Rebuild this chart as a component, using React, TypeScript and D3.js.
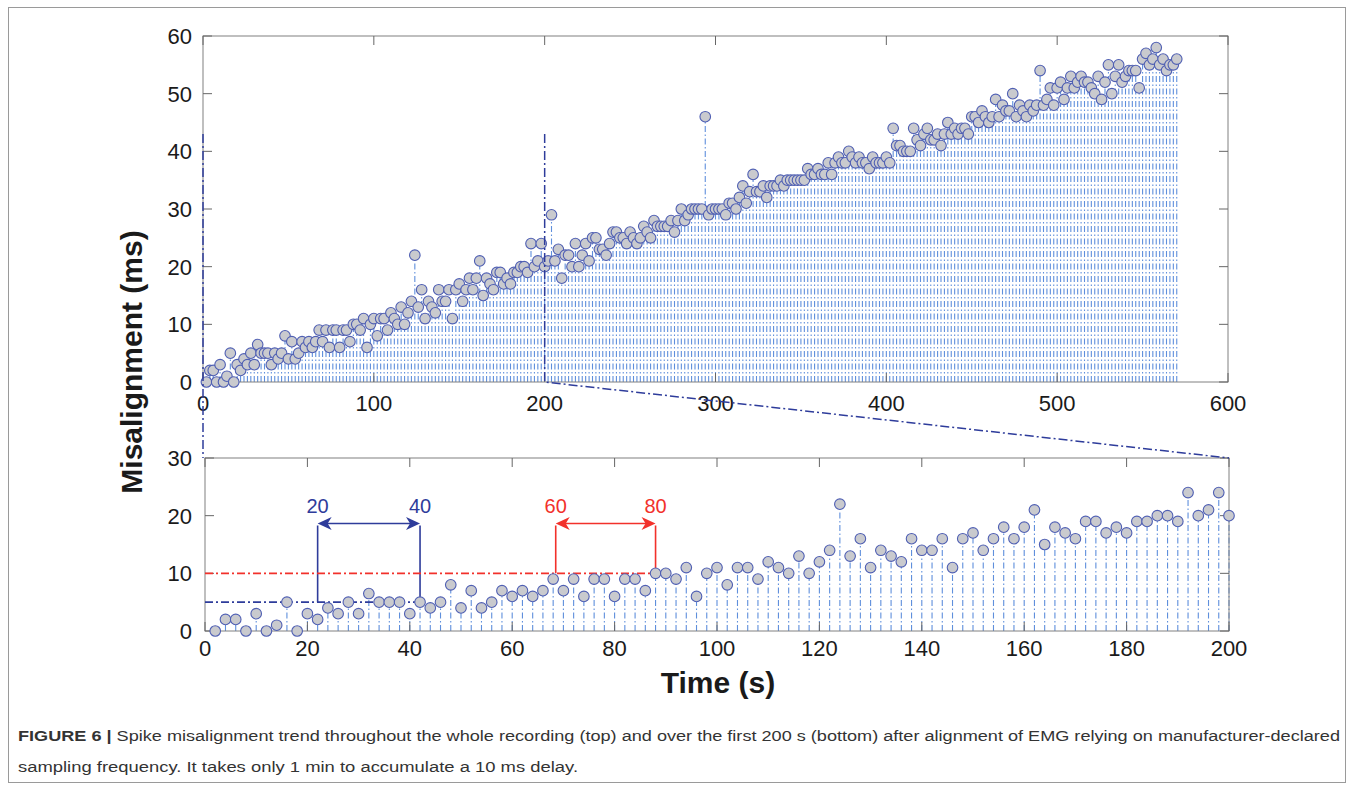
import React, { useRef, useEffect } from 'react';
import * as d3 from 'd3';

// one detected spike every 2 s
const SAMPLE_STEP = 2;

// misalignment (ms) of spikes at t = 2, 4, ... 200 s
const firstValues = [
  0, 2, 2, 0, 3, 0, 1, 5, 0, 3, 2, 4, 3, 5, 3, 6.5, 5, 5, 5, 3,
  5, 4, 5, 8, 4, 7, 4, 5, 7, 6, 7, 6, 7, 9, 7, 9, 6, 9, 9, 6,
  9, 9, 7, 10, 10, 9, 11, 6, 10, 11, 8, 11, 11, 9, 12, 11, 10, 13, 10, 12,
  14, 22, 13, 16, 11, 14, 13, 12, 16, 14, 14, 16, 11, 16, 17, 14, 16, 18, 16, 18,
  21, 15, 18, 17, 16, 19, 19, 17, 18, 17, 19, 19, 20, 20, 19, 24, 20, 21, 24, 20,
];

// misalignment (ms) of spikes at t = 202, 204, ... 570 s
const laterValues = [
  21, 29, 21, 23, 18, 22, 22, 20, 24, 20, 22, 24, 21, 25, 25, 23, 23, 22, 24, 26,
  26, 25, 25, 24, 26, 25, 24, 25, 27, 26, 25, 28, 27, 27, 27, 27, 28, 26, 28, 30,
  28, 29, 30, 30, 30, 30, 46, 29, 30, 30, 30, 30, 29, 31, 31, 30, 32, 34, 31, 33,
  36, 33, 33, 34, 32, 34, 34, 34, 35, 34, 35, 35, 35, 35, 35, 35, 37, 36, 36, 37,
  36, 36, 38, 36, 38, 39, 38, 38, 40, 39, 38, 39, 38, 38, 37, 39, 38, 38, 38, 39,
  38, 44, 41, 41, 40, 40, 40, 44, 42, 41, 43, 44, 42, 42, 43, 41, 43, 45, 43, 44,
  43, 44, 44, 43, 46, 46, 45, 47, 46, 45, 46, 49, 46, 48, 47, 47, 50, 46, 48, 47,
  46, 48, 47, 48, 54, 48, 49, 51, 48, 51, 52, 49, 51, 53, 51, 52, 53, 52, 52, 51,
  50, 53, 49, 52, 55, 50, 53, 55, 52, 53, 54, 54, 54, 51, 56, 57, 55, 56, 58, 55,
  56, 54, 55, 55, 56,
];

const topXTicks = [0, 100, 200, 300, 400, 500, 600];
const topYTicks = [0, 10, 20, 30, 40, 50, 60];
const bottomXTicks = [0, 20, 40, 60, 80, 100, 120, 140, 160, 180, 200];
const bottomYTicks = [0, 10, 20, 30];

// zoomed window of the top panel
const zoomRange = [0, 200];
const zoomMarkerTop = 43;

// annotated 20 s windows in the bottom panel
const windowBounds = [[22, 42], [68.5, 88]];
const windowLabels = [['20', '40'], ['60', '80']];
const windowLevels = [5, 10];
const windowTop = 18.3;

const captionLine1 = 'Spike misalignment trend throughout the whole recording (top) and over the first 200 s (bottom) after alignment of EMG relying on manufacturer-declared';
const captionLine2 = 'sampling frequency. It takes only 1 min to accumulate a 10 ms delay.';

const FONT = "'Liberation Sans', Arial, Helvetica, sans-serif";
const STEM = '#5f8fdc';
const MARK_FILL = '#c9cace';
const MARK_EDGE = '#4f5fb3';
const NAVY = '#2e3c9b';
const RED = '#f2312b';

const App = () => {
  const svgRef = useRef<SVGSVGElement>(null);

  useEffect(() => {
    const svg = d3.select(svgRef.current);
    svg.selectAll('*').remove();

    const rows = firstValues.concat(laterValues).map((v, i) => ({ t: (i + 1) * SAMPLE_STEP, v }));
    const zoomRows = rows.filter(d => d.t <= zoomRange[1]);

    // figure frame
    svg.append('rect')
      .attr('x', 8.5).attr('y', 7.5).attr('width', 1337).attr('height', 775)
      .attr('fill', 'none').attr('stroke', '#9a9a9a').attr('stroke-width', 1);

    const xTop = d3.scaleLinear().domain([0, 600]).range([203, 1228]);
    const yTop = d3.scaleLinear().domain([0, 60]).range([382, 36]);
    const xBot = d3.scaleLinear().domain([0, 200]).range([205, 1229]);
    const yBot = d3.scaleLinear().domain([0, 30]).range([631, 458]);

    const drawPanel = (rowsIn, x, y, xTicks, yTicks, xLabelBase) => {
      const g = svg.append('g');
      const [x0, x1] = x.range();
      const [y0, y1] = y.range();

      // stems
      g.append('g')
        .selectAll('path')
        .data(rowsIn)
        .enter()
        .append('path')
        .attr('d', d => `M${x(d.t)},${y(0)}L${x(d.t)},${y(d.v)}`)
        .attr('stroke', STEM)
        .attr('stroke-width', 1.1)
        .attr('stroke-dasharray', '6,2.5,1.5,2.5')
        .attr('fill', 'none');

      // box
      g.append('rect')
        .attr('x', x0).attr('y', y1).attr('width', x1 - x0).attr('height', y0 - y1)
        .attr('fill', 'none').attr('stroke', '#808080').attr('stroke-width', 1);

      // ticks (inside, on all four sides)
      xTicks.forEach(t => {
        g.append('line').attr('x1', x(t)).attr('x2', x(t)).attr('y1', y0).attr('y2', y0 - 9)
          .attr('stroke', '#666');
        g.append('line').attr('x1', x(t)).attr('x2', x(t)).attr('y1', y1).attr('y2', y1 + 9)
          .attr('stroke', '#666');
      });
      yTicks.forEach(t => {
        g.append('line').attr('x1', x0).attr('x2', x0 + 9).attr('y1', y(t)).attr('y2', y(t))
          .attr('stroke', '#666');
        g.append('line').attr('x1', x1).attr('x2', x1 - 9).attr('y1', y(t)).attr('y2', y(t))
          .attr('stroke', '#666');
      });

      g.selectAll('text.xt')
        .data(xTicks)
        .enter()
        .append('text')
        .attr('x', d => x(d))
        .attr('y', xLabelBase)
        .attr('text-anchor', 'middle')
        .attr('font-family', FONT)
        .attr('font-size', 22)
        .attr('fill', '#1a1a1a')
        .text(d => d);

      g.selectAll('text.yt')
        .data(yTicks)
        .enter()
        .append('text')
        .attr('x', 192)
        .attr('y', d => y(d) + 8)
        .attr('text-anchor', 'end')
        .attr('font-family', FONT)
        .attr('font-size', 22)
        .attr('fill', '#1a1a1a')
        .text(d => d);

      return g;
    };

    const gTop = drawPanel(rows, xTop, yTop, topXTicks, topYTicks, 411);
    const gBot = drawPanel(zoomRows, xBot, yBot, bottomXTicks, bottomYTicks, 656);

    // zoom indicator lines (dash-dot, navy)
    const zoomDash = '9,3,2,3';
    svg.append('path')
      .attr('d', `M${xTop(zoomRange[0])},${yTop(zoomMarkerTop)}L${xTop(zoomRange[0])},${yBot(30)}`)
      .attr('stroke', NAVY).attr('stroke-width', 1.5).attr('stroke-dasharray', zoomDash).attr('fill', 'none');
    svg.append('path')
      .attr('d', `M${xTop(zoomRange[1])},${yTop(zoomMarkerTop)}L${xTop(zoomRange[1])},${yTop(0)}L${xBot(zoomRange[1])},${yBot(30)}`)
      .attr('stroke', NAVY).attr('stroke-width', 1.5).attr('stroke-dasharray', zoomDash).attr('fill', 'none');

    // reference levels and windows in the bottom panel
    const colors = [NAVY, RED];
    windowBounds.forEach(([a, b], i) => {
      const c = colors[i];
      const lv = windowLevels[i];
      gBot.append('path')
        .attr('d', `M${xBot(0)},${yBot(lv)}L${xBot(b)},${yBot(lv)}`)
        .attr('stroke', c).attr('stroke-width', 1.6).attr('stroke-dasharray', '8,3,2,3').attr('fill', 'none');
      gBot.append('path')
        .attr('d', `M${xBot(a)},${yBot(lv)}L${xBot(a)},${yBot(windowTop)}M${xBot(b)},${yBot(lv)}L${xBot(b)},${yBot(windowTop)}`)
        .attr('stroke', c).attr('stroke-width', 1.6).attr('fill', 'none');
      const ya = yBot(windowTop) - 2;
      const xa = xBot(a);
      const xb = xBot(b);
      gBot.append('line')
        .attr('x1', xa + 6).attr('x2', xb - 6).attr('y1', ya).attr('y2', ya)
        .attr('stroke', c).attr('stroke-width', 1.6);
      gBot.append('path')
        .attr('d', `M${xa},${ya}L${xa + 14},${ya - 6.5}L${xa + 10},${ya}L${xa + 14},${ya + 6.5}Z`)
        .attr('fill', c);
      gBot.append('path')
        .attr('d', `M${xb},${ya}L${xb - 14},${ya - 6.5}L${xb - 10},${ya}L${xb - 14},${ya + 6.5}Z`)
        .attr('fill', c);
      [a, b].forEach((t, j) => {
        gBot.append('text')
          .attr('x', xBot(t))
          .attr('y', yBot(windowTop) - 12)
          .attr('text-anchor', 'middle')
          .attr('font-family', FONT)
          .attr('font-size', 20)
          .attr('fill', c)
          .text(windowLabels[i][j]);
      });
    });

    // markers on top of everything
    const drawMarkers = (g, rowsIn, x, y) => {
      g.append('g')
        .selectAll('circle')
        .data(rowsIn)
        .enter()
        .append('circle')
        .attr('cx', d => x(d.t))
        .attr('cy', d => y(d.v))
        .attr('r', 5.3)
        .attr('fill', MARK_FILL)
        .attr('stroke', MARK_EDGE)
        .attr('stroke-width', 1.1);
    };
    drawMarkers(gTop, rows, xTop, yTop);
    drawMarkers(gBot, zoomRows, xBot, yBot);

    // axis titles
    svg.append('text')
      .attr('transform', 'translate(142,362) rotate(-90)')
      .attr('text-anchor', 'middle')
      .attr('font-family', FONT)
      .attr('font-weight', 'bold')
      .attr('font-size', 30)
      .attr('fill', '#1a1a1a')
      .text('Misalignment (ms)');
    svg.append('text')
      .attr('x', 718)
      .attr('y', 693)
      .attr('text-anchor', 'middle')
      .attr('font-family', FONT)
      .attr('font-weight', 'bold')
      .attr('font-size', 30)
      .attr('fill', '#1a1a1a')
      .text('Time (s)');

    // caption
    const cap1 = svg.append('text')
      .attr('x', 18).attr('y', 741)
      .attr('font-family', FONT).attr('font-size', 15.5).attr('fill', '#333')
      .attr('textLength', 1322).attr('lengthAdjust', 'spacingAndGlyphs');
    cap1.append('tspan').attr('font-weight', 'bold').text('FIGURE 6 | ');
    cap1.append('tspan').text(captionLine1);
    svg.append('text')
      .attr('x', 18).attr('y', 772)
      .attr('font-family', FONT).attr('font-size', 15.5).attr('fill', '#333')
      .attr('textLength', 560).attr('lengthAdjust', 'spacingAndGlyphs')
      .text(captionLine2);
  }, []);

  return (
    <svg ref={svgRef} width={1354} height={789} style={{ position: 'absolute', left: 0, top: 0, background: '#fff' }} />
  );
};

export default App;
